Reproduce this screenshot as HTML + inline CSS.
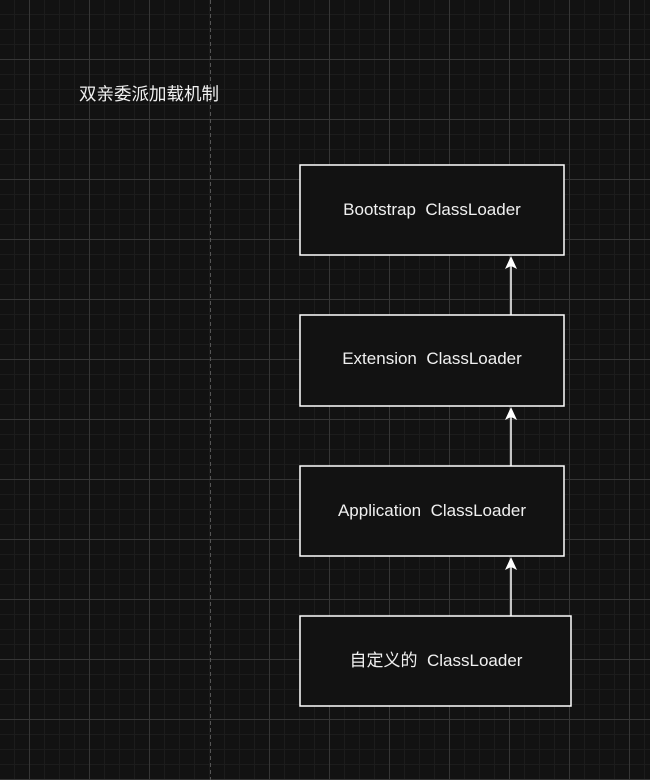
<!DOCTYPE html>
<html><head><meta charset="utf-8"><style>
html,body{margin:0;padding:0;background:#121212;}
svg{display:block;}
text{font-family:"Liberation Sans","Noto Sans CJK SC",sans-serif;font-size:17px;fill:#f0f0f0;white-space:pre;}
</style></head><body>
<svg width="650" height="780" viewBox="0 0 650 780" xmlns="http://www.w3.org/2000/svg" xml:space="preserve">
<defs>
<pattern id="minor" x="-1" y="-1" width="15" height="15" patternUnits="userSpaceOnUse">
<path d="M0 0.5H15M0.5 0V15" stroke="#1c1c1c" stroke-width="1" fill="none"/>
</pattern>
</defs>
<rect width="650" height="780" fill="#121212"/>
<rect width="650" height="780" fill="url(#minor)"/>
<g stroke="#363636" stroke-width="1">
<path d="M29.5 0V780M89.5 0V780M149.5 0V780M269.5 0V780M329.5 0V780M389.5 0V780M449.5 0V780M509.5 0V780M569.5 0V780M629.5 0V780"/>
<path d="M0 59.5H650M0 119.5H650M0 179.5H650M0 239.5H650M0 299.5H650M0 359.5H650M0 419.5H650M0 479.5H650M0 539.5H650M0 599.5H650M0 659.5H650M0 719.5H650M0 779.5H650"/>
</g>
<path d="M210.5 0V780" stroke="#555" stroke-width="1" stroke-dasharray="4 3"/>
<text x="79" y="100" style="font-size:17.5px">双亲委派加载机制</text>

<g fill="#121212" stroke="#ffffff" stroke-width="1.5">
<rect x="300" y="165" width="264" height="90"/>
<rect x="300" y="315" width="264" height="91"/>
<rect x="300" y="466" width="264" height="90"/>
<rect x="300" y="616" width="271" height="90"/>
</g>
<g stroke="#ffffff" stroke-width="1.5">
<path d="M511 315V262M511 466V413M511 616V563"/>
</g>
<g fill="#ffffff">
<path d="M511 256L517 269L511 266L505 269Z"/>
<path d="M511 407L517 420L511 417L505 420Z"/>
<path d="M511 557L517 570L511 567L505 570Z"/>
</g>
<text x="432" y="215" text-anchor="middle">Bootstrap  ClassLoader</text>
<text x="432" y="364" text-anchor="middle">Extension  ClassLoader</text>
<text x="432" y="516" text-anchor="middle">Application  ClassLoader</text>
<text x="436" y="666" text-anchor="middle">自定义的  ClassLoader</text>
</svg>
</body></html>
